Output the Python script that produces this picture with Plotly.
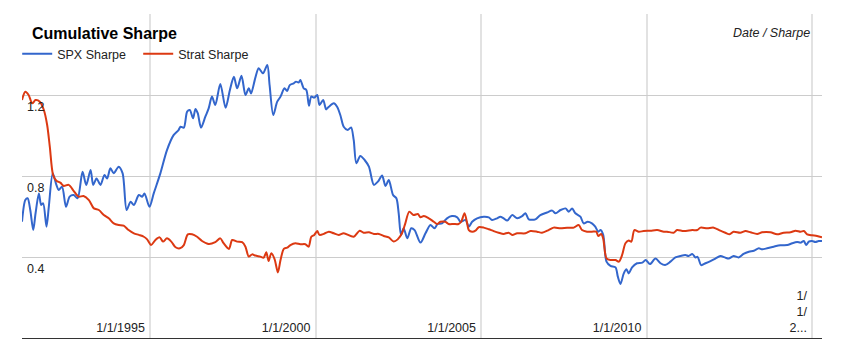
import plotly.graph_objects as go
from datetime import datetime, timedelta

# ---- data (decimal years) ----
spx_years = [
    1991.12, 1991.22, 1991.29, 1991.37, 1991.46, 1991.53, 1991.63, 1991.70, 1991.76, 1991.86,
    1991.93, 1992.05, 1992.16, 1992.23, 1992.33, 1992.45, 1992.56, 1992.68, 1992.80, 1992.95,
    1993.06, 1993.19, 1993.27, 1993.37, 1993.49, 1993.61, 1993.69, 1993.79, 1993.89, 1994.04,
    1994.16, 1994.28, 1994.40, 1994.50, 1994.65, 1994.75, 1994.82, 1994.97, 1995.10, 1995.30,
    1995.50, 1995.70, 1995.85, 1995.91, 1996.01, 1996.11, 1996.19, 1996.29, 1996.36, 1996.43,
    1996.53, 1996.66, 1996.76, 1996.86, 1996.96, 1997.11, 1997.27, 1997.40, 1997.52, 1997.62,
    1997.75, 1997.87, 1997.97, 1998.04, 1998.17, 1998.27, 1998.40, 1998.53, 1998.60, 1998.71,
    1998.83, 1998.93, 1999.05, 1999.13, 1999.21, 1999.33, 1999.40, 1999.48, 1999.53, 1999.63,
    1999.71, 1999.79, 1999.86, 1999.95, 2000.04, 2000.11, 2000.22, 2000.31, 2000.39, 2000.54,
    2000.64, 2000.74, 2000.84, 2000.96, 2001.06, 2001.14, 2001.22, 2001.34, 2001.47, 2001.60,
    2001.75, 2001.87, 2002.00, 2002.10, 2002.20, 2002.33, 2002.43, 2002.50, 2002.57, 2002.65,
    2002.76, 2002.88, 2002.98, 2003.16, 2003.31, 2003.46, 2003.58, 2003.68, 2003.81, 2003.96,
    2004.11, 2004.27, 2004.37, 2004.52, 2004.62, 2004.72, 2004.87, 2005.07, 2005.22, 2005.32,
    2005.47, 2005.57, 2005.67, 2005.78, 2005.93, 2006.08, 2006.23, 2006.33, 2006.43, 2006.63,
    2006.78, 2006.98, 2007.14, 2007.24, 2007.39, 2007.54, 2007.64, 2007.74, 2007.84, 2007.99,
    2008.09, 2008.21, 2008.34, 2008.44, 2008.53, 2008.60, 2008.68, 2008.78, 2008.90, 2009.05,
    2009.12, 2009.20, 2009.30, 2009.38, 2009.45, 2009.55, 2009.70, 2009.86, 2009.96, 2010.09,
    2010.26, 2010.41, 2010.55, 2010.71, 2010.86, 2011.01, 2011.16, 2011.26, 2011.37, 2011.47,
    2011.53, 2011.64, 2011.77, 2011.92, 2012.07, 2012.22, 2012.37, 2012.47, 2012.62, 2012.77,
    2012.92, 2013.08, 2013.23, 2013.38, 2013.48, 2013.63, 2013.83, 2014.03, 2014.24, 2014.39,
    2014.54, 2014.64, 2014.74, 2014.81, 2014.89, 2014.99, 2015.09, 2015.19, 2015.29,
]
spx_sharpe = [
    0.574, 0.681, 0.690, 0.632, 0.533, 0.616, 0.714, 0.657, 0.665, 0.550,
    0.648, 0.813, 0.756, 0.731, 0.747, 0.648, 0.698, 0.706, 0.690, 0.821,
    0.756, 0.830, 0.756, 0.788, 0.756, 0.805, 0.788, 0.838, 0.813, 0.846,
    0.813, 0.632, 0.673, 0.657, 0.706, 0.698, 0.714, 0.648, 0.714, 0.813,
    0.928, 1.002, 1.027, 1.043, 1.039, 1.118, 1.126, 1.085, 1.131, 1.110,
    1.039, 1.093, 1.134, 1.192, 1.151, 1.254, 1.137, 1.225, 1.290, 1.233,
    1.295, 1.200, 1.233, 1.208, 1.286, 1.332, 1.307, 1.348, 1.249, 1.101,
    1.167, 1.192, 1.233, 1.220, 1.249, 1.258, 1.266, 1.262, 1.274, 1.233,
    1.225, 1.147, 1.192, 1.187, 1.200, 1.151, 1.175, 1.129, 1.142, 1.159,
    1.142, 1.100, 1.043, 1.027, 1.040, 0.978, 0.863, 0.899, 0.879, 0.846,
    0.756, 0.772, 0.802, 0.751, 0.780, 0.706, 0.690, 0.616, 0.509, 0.542,
    0.492, 0.542, 0.533, 0.471, 0.517, 0.558, 0.542, 0.563, 0.566, 0.591,
    0.602, 0.596, 0.574, 0.583, 0.550, 0.574, 0.591, 0.599, 0.596, 0.583,
    0.591, 0.599, 0.591, 0.580, 0.607, 0.591, 0.602, 0.616, 0.586, 0.586,
    0.607, 0.620, 0.629, 0.616, 0.632, 0.640, 0.624, 0.640, 0.616, 0.599,
    0.566, 0.574, 0.566, 0.550, 0.525, 0.533, 0.509, 0.377, 0.356, 0.349,
    0.303, 0.267, 0.319, 0.339, 0.319, 0.349, 0.369, 0.372, 0.385, 0.365,
    0.393, 0.369, 0.360, 0.377, 0.398, 0.405, 0.410, 0.405, 0.415, 0.398,
    0.401, 0.360, 0.369, 0.380, 0.392, 0.405, 0.397, 0.392, 0.405, 0.398,
    0.415, 0.426, 0.431, 0.443, 0.438, 0.443, 0.451, 0.458, 0.459, 0.468,
    0.474, 0.471, 0.479, 0.459, 0.476, 0.479, 0.474, 0.479, 0.479,
]

strat_years = [
    1991.12, 1991.22, 1991.32, 1991.43, 1991.53, 1991.66, 1991.78, 1991.88, 1991.96, 1992.06,
    1992.16, 1992.28, 1992.38, 1992.53, 1992.68, 1992.83, 1992.98, 1993.14, 1993.29, 1993.44,
    1993.59, 1993.74, 1993.89, 1994.04, 1994.19, 1994.34, 1994.50, 1994.65, 1994.80, 1994.90,
    1995.02, 1995.15, 1995.28, 1995.38, 1995.50, 1995.63, 1995.76, 1995.89, 1996.01, 1996.13,
    1996.26, 1996.41, 1996.56, 1996.76, 1996.96, 1997.11, 1997.21, 1997.37, 1997.47, 1997.62,
    1997.77, 1997.87, 1997.97, 1998.07, 1998.17, 1998.32, 1998.42, 1998.50, 1998.57, 1998.65,
    1998.75, 1998.85, 1998.93, 1999.03, 1999.13, 1999.23, 1999.38, 1999.53, 1999.68, 1999.78,
    1999.86, 1999.95, 2000.04, 2000.11, 2000.24, 2000.39, 2000.54, 2000.69, 2000.84, 2001.14,
    2001.32, 2001.44, 2001.60, 2001.75, 2001.90, 2002.05, 2002.20, 2002.35, 2002.47, 2002.60,
    2002.70, 2002.82, 2002.95, 2003.08, 2003.16, 2003.26, 2003.41, 2003.56, 2003.66, 2003.76,
    2003.91, 2004.01, 2004.16, 2004.31, 2004.39, 2004.49, 2004.57, 2004.62, 2004.72, 2004.82,
    2004.92, 2005.07, 2005.22, 2005.37, 2005.52, 2005.67, 2005.82, 2005.93, 2006.08, 2006.33,
    2006.48, 2006.68, 2006.83, 2007.03, 2007.18, 2007.39, 2007.59, 2007.79, 2007.94, 2008.04,
    2008.19, 2008.34, 2008.47, 2008.53, 2008.62, 2008.68, 2008.78, 2008.90, 2009.05, 2009.15,
    2009.25, 2009.35, 2009.45, 2009.53, 2009.62, 2009.75, 2009.90, 2010.11, 2010.31, 2010.51,
    2010.61, 2010.81, 2010.91, 2011.11, 2011.37, 2011.52, 2011.62, 2011.82, 2012.02, 2012.22,
    2012.37, 2012.50, 2012.62, 2012.82, 2012.98, 2013.13, 2013.33, 2013.48, 2013.73, 2013.93,
    2014.13, 2014.34, 2014.49, 2014.64, 2014.74, 2014.84, 2014.99, 2015.14, 2015.29,
]
strat_sharpe = [
    1.175, 1.216, 1.200, 1.159, 1.175, 1.167, 1.126, 1.052, 0.945, 0.805,
    0.777, 0.767, 0.751, 0.756, 0.727, 0.698, 0.701, 0.681, 0.640, 0.632,
    0.607, 0.591, 0.566, 0.558, 0.555, 0.533, 0.517, 0.509, 0.500, 0.487,
    0.459, 0.484, 0.497, 0.476, 0.492, 0.476, 0.448, 0.443, 0.459, 0.512,
    0.512, 0.500, 0.479, 0.464, 0.473, 0.492, 0.468, 0.440, 0.484, 0.476,
    0.473, 0.451, 0.402, 0.413, 0.407, 0.402, 0.397, 0.423, 0.380, 0.418,
    0.390, 0.324, 0.385, 0.440, 0.446, 0.459, 0.468, 0.463, 0.463, 0.451,
    0.500, 0.509, 0.528, 0.509, 0.514, 0.525, 0.517, 0.509, 0.517, 0.500,
    0.530, 0.520, 0.522, 0.514, 0.514, 0.504, 0.497, 0.476, 0.487, 0.517,
    0.566, 0.624, 0.607, 0.612, 0.596, 0.602, 0.591, 0.574, 0.563, 0.574,
    0.574, 0.563, 0.563, 0.563, 0.574, 0.616, 0.566, 0.533, 0.525, 0.530,
    0.547, 0.545, 0.537, 0.528, 0.520, 0.514, 0.520, 0.509, 0.517, 0.517,
    0.528, 0.525, 0.520, 0.533, 0.545, 0.542, 0.545, 0.545, 0.558, 0.533,
    0.525, 0.525, 0.525, 0.504, 0.514, 0.492, 0.393, 0.385, 0.385, 0.377,
    0.410, 0.468, 0.481, 0.476, 0.533, 0.525, 0.528, 0.530, 0.533, 0.525,
    0.525, 0.520, 0.533, 0.528, 0.533, 0.533, 0.545, 0.542, 0.545, 0.530,
    0.520, 0.512, 0.525, 0.520, 0.528, 0.522, 0.514, 0.522, 0.522, 0.512,
    0.520, 0.522, 0.530, 0.525, 0.528, 0.512, 0.507, 0.504, 0.497,
]

x_tick_dates = ["1995-01-01", "2000-01-01", "2005-01-01", "2010-01-01", "2015-01-01"]
x_tick_labels = ["1/1/1995", "1/1/2000", "1/1/2005", "1/1/2010", "1/<br>1/<br>2..."]
y_tick_values = [0.0, 0.4, 0.8, 1.2, 1.6]
y_tick_labels = ["", "0.4", "0.8", "1.2", ""]


def to_date(y):
    yr = int(y)
    return datetime(yr, 1, 1) + timedelta(days=(y - yr) * 365.25)


spx_dates = [to_date(v) for v in spx_years]
strat_dates = [to_date(v) for v in strat_years]

FONT = "Liberation Sans, Arial, sans-serif"

fig = go.Figure()
fig.add_trace(go.Scatter(x=spx_dates, y=spx_sharpe, mode="lines", name="SPX Sharpe",
                         line=dict(color="#3366cc", width=2, shape="spline", smoothing=0.8)))
fig.add_trace(go.Scatter(x=strat_dates, y=strat_sharpe, mode="lines", name="Strat Sharpe",
                         line=dict(color="#dc3912", width=2, shape="spline", smoothing=0.8)))

fig.update_layout(
    width=842, height=352,
    margin=dict(l=22, r=20, t=14, b=14),
    paper_bgcolor="white", plot_bgcolor="white",
    font=dict(family=FONT, size=12.5, color="#222222"),
    title=dict(text="<b>Cumulative Sharpe</b>", font=dict(size=16, color="#000000", family=FONT),
               xref="container", yref="container", x=32 / 842, xanchor="left",
               y=1 - 33 / 352, yanchor="middle"),
    showlegend=True,
    legend=dict(orientation="h", x=-0.006, xanchor="left", y=(338 - 54) / 324, yanchor="middle",
                bgcolor="rgba(0,0,0,0)", font=dict(size=12.5, color="#222222", family=FONT),
                entrywidthmode="pixels", entrywidth=76, tracegroupgap=0),
    xaxis=dict(
        type="date", range=[spx_dates[0], spx_dates[-1]],
        tickvals=x_tick_dates, ticktext=x_tick_labels,
        ticklabelposition="inside left", ticks="", ticklabelstandoff=0, ticklabelshift=-5,
        showgrid=True, gridcolor="#e2e2e2", gridwidth=2,
        showline=True, linecolor="#333333", linewidth=1, zeroline=False,
        tickfont=dict(size=12.5, color="#222222"),
    ),
    yaxis=dict(
        range=[0, 1.6], tickvals=y_tick_values, ticktext=y_tick_labels,
        ticklabelposition="inside", ticks="", ticklabelshift=12, ticklabelstandoff=2,
        showgrid=True, gridcolor="#cccccc", gridwidth=1, zeroline=False, showline=False,
        tickfont=dict(size=12.5, color="#222222"),
    ),
    annotations=[dict(text="<i>Date / Sharpe</i>", xref="paper", yref="paper",
                      x=(812 - 22) / 800, y=(338 - 33) / 324, xanchor="right", yanchor="middle",
                      showarrow=False, font=dict(size=12.5, color="#222222"))],
)

fig.write_html("out.html")
